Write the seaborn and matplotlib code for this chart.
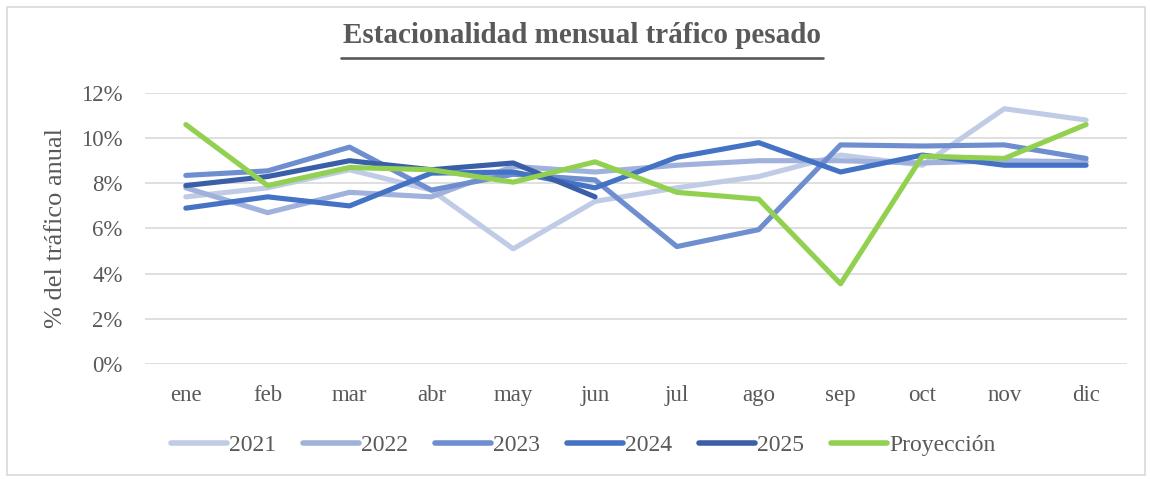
import pandas as pd
import matplotlib.pyplot as plt
import seaborn as sns
from matplotlib.patches import Rectangle
from matplotlib.ticker import PercentFormatter

meses = ["ene", "feb", "mar", "abr", "may", "jun", "jul", "ago", "sep", "oct", "nov", "dic"]

# % del tráfico anual por mes
v2021 = [7.4, 7.8, 8.6, 7.7, 5.1, 7.2, 7.8, 8.3, 9.25, 8.8, 11.3, 10.8]
v2022 = [7.8, 6.7, 7.6, 7.4, 8.75, 8.5, 8.8, 9.0, 9.0, 8.9, 9.0, 8.95]
v2023 = [8.35, 8.55, 9.6, 7.7, 8.4, 8.15, 5.2, 5.95, 9.7, 9.65, 9.7, 9.1]
v2024 = [6.9, 7.4, 7.0, 8.45, 8.5, 7.8, 9.15, 9.8, 8.5, 9.25, 8.8, 8.8]
v2025 = [7.9, 8.3, 9.0, 8.6, 8.9, 7.4]
proyeccion = [10.6, 7.9, 8.7, 8.6, 8.05, 8.95, 7.6, 7.3, 3.55, 9.2, 9.1, 10.6]

series = {"2021": v2021, "2022": v2022, "2023": v2023, "2024": v2024,
          "2025": v2025, "Proyección": proyeccion}
colores = {"2021": "#C0CBE6", "2022": "#A0B1DC", "2023": "#6E8ECF",
           "2024": "#4472C4", "2025": "#3A5FA8", "Proyección": "#92D050"}

filas = []
for nombre, valores in series.items():
    for i, v in enumerate(valores):
        filas.append({"mes": i, "valor": v, "serie": nombre})
df = pd.DataFrame(filas)

sns.set_style("white")
plt.rcParams["font.family"] = ["Liberation Serif", "DejaVu Serif"]
gris = "#595959"

fig = plt.figure(figsize=(11.5, 4.79), dpi=100)
ax = fig.add_axes([0.126, 0.240, 0.854, 0.566])

sns.lineplot(data=df, x="mes", y="valor", hue="serie", palette=colores,
             linewidth=3.7, ax=ax, legend=True)
for ln in ax.get_lines():
    ln.set_solid_capstyle("round")
    ln.set_solid_joinstyle("round")

ax.set_xlim(-0.5, 11.5)
ax.set_ylim(0, 12)
ax.set_yticks(range(0, 13, 2))
ax.yaxis.set_major_formatter(PercentFormatter(decimals=0))
ax.set_xticks(range(12))
ax.set_xticklabels(meses)
ax.grid(axis="y", color="#D9D9D9", linewidth=1.2)
ax.set_axisbelow(True)
for s in ax.spines.values():
    s.set_visible(False)
ax.tick_params(axis="both", length=0, labelsize=16.5, labelcolor=gris)
ax.tick_params(axis="y", pad=16)
ax.tick_params(axis="x", pad=15)
ax.set_xlabel("")
ax.set_ylabel("% del tráfico anual", fontsize=19, color=gris, labelpad=10)

fig.text(0.506, 0.910, "Estacionalidad mensual tráfico pesado", ha="center", va="baseline",
         fontsize=21, fontweight="bold", color=gris)
fig.add_artist(plt.Line2D([0.2965, 0.7157], [0.878, 0.878], color=gris, linewidth=1.9))

handles, labels = ax.get_legend_handles_labels()
for h in handles:
    h.set_linewidth(4.0)
    h.set_solid_capstyle("round")
ax.legend(handles, labels, loc="center left", bbox_to_anchor=(0.005, -0.30), ncol=6,
          frameon=False, fontsize=17, handlelength=2.35, handletextpad=0.1,
          columnspacing=1.15, labelcolor=gris)

fig.add_artist(Rectangle((0.006, 0.008), 0.99, 0.978, transform=fig.transFigure,
                         fill=False, edgecolor="#D9D9D9", linewidth=1.2))

fig.savefig("out.png", dpi=100)
